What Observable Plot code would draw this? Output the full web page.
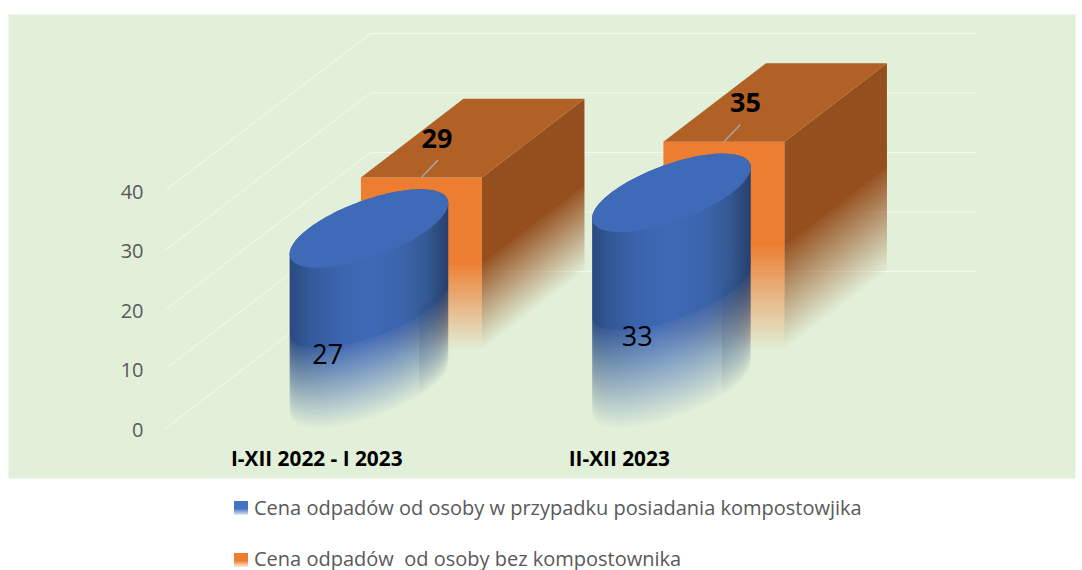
<!DOCTYPE html>
<html lang="pl">
<head>
<meta charset="utf-8">
<script src="https://cdn.jsdelivr.net/npm/d3@7"></script>
<script src="https://cdn.jsdelivr.net/npm/@observablehq/plot@0.6"></script>
<style>
html,body{margin:0;padding:0;background:#fff;overflow:hidden}
#chart svg{display:block}
.leg{position:absolute;left:234px;font:20px/20px "Open Sans",sans-serif;color:#595959;white-space:pre}
.leg i{position:absolute;left:0;width:14px;height:14px}
.leg span{margin-left:20px}
</style>
</head>
<body>
<div id="chart"></div>
<script>
const categories = ["I-XII 2022 - I 2023", "II-XII 2023"];
const withCompost = [27, 33];
const withoutCompost = [29, 35];
const yTicks = [0, 10, 20, 30, 40];
const seriesNames = ["Cena odpadów od osoby w przypadku posiadania kompostowjika", "Cena odpadów  od osoby bez kompostownika"];

// oblique projection: a point (u along categories, v value, d depth 0..1) onto the two Plot scales
const KX = 0.678, KY = 26.4;
const P = (u, v, d) => ({x: u + d * KX, y: v + d * KY});
const HW = 0.2, SHIFT = 0.007, N = 72;
const BG = "#e2f0d9";

const T0 = Math.atan2(0.25 * KX, HW);
const front = (c, v, k = 64) => d3.range(k + 1).map(i => {
  const t = T0 + Math.PI + Math.PI * i / k;
  return P(c + HW * Math.cos(t), v, 0.25 + 0.25 * Math.sin(t));
});
const back = (c, v, k = 64) => d3.range(k + 1).map(i => {
  const t = T0 + Math.PI - Math.PI * i / k;
  return P(c + HW * Math.cos(t), v, 0.25 + 0.25 * Math.sin(t));
});
const ellipse = (c, v) => [...front(c, v), ...back(c, v).reverse()];
const bodyPoly = (c, v) => [...back(c, v), ...front(c, 0).reverse()];
const stripPoly = (c, top) => {
  const all = k => front(c, k).filter(p => p.x >= c + 0.25 * KX + 0.165);
  return [...all(top), ...all(0).reverse()];
};
const barIso = (c, v) => [P(c - HW, v, .5), P(c + HW, v, .5), P(c + HW, v, 1)];

const marks = [Plot.frame({fill: BG, stroke: "none"})];

// grid: floor of the box at each tick, then along the back wall
for (const t of yTicks) {
  marks.push(Plot.line([P(0, t, 0), P(0, t, 1), P(2, t, 1)], {x: "x", y: "y", stroke: "#ffffff", strokeOpacity: 0.62, strokeWidth: 1, curve: "linear"}));
}
marks.push(Plot.axisY(yTicks, {anchor: "left", tickSize: 0, tickPadding: 0, dx: 135, dy: 2, fontSize: 20, fill: "#595959", label: null}));

categories.forEach((_, i) => {
  const c = i + 0.5 + SHIFT, v = withoutCompost[i], id = "fade-b" + i;
  const L = c - HW, R = c + HW;
  marks.push(
    Plot.line([P(L, 0, .5), P(L, v, .5), P(R, v, .5), P(R, 0, .5)], {x: "x", y: "y", fill: "#ed7d31", stroke: "none", ariaDescription: id}),
    Plot.line([P(R, 0, .5), P(R, v, .5), P(R, v, 1), P(R, 0, 1)], {x: "x", y: "y", fill: "#954f1e", stroke: "none", ariaDescription: id}),
    Plot.line([P(L, v, .5), P(R, v, .5), P(R, v, 1), P(L, v, 1)], {x: "x", y: "y", fill: "#b16026", stroke: "none"})
  );
});

categories.forEach((_, i) => {
  const c = i + 0.5 + 0.003, v = withCompost[i], id = "fade-c" + i;
  marks.push(
    Plot.line(bodyPoly(c, v), {x: "x", y: "y", fill: "url(#cylBody)", stroke: "none", ariaDescription: id}),
    Plot.line(stripPoly(c, v * 0.55), {x: "x", y: "y", fill: "url(#cylStrip)", stroke: "none", ariaDescription: id}),
    Plot.line(ellipse(c, v), {x: "x", y: "y", fill: "#3f6ab8", stroke: "none"})
  );
});

// leader lines and value labels
const barLabelShift = [-0.118, -0.098];
const cylLabelDx = [11, 18];
categories.forEach((_, i) => {
  const c = i + 0.5 + SHIFT, v = withoutCompost[i];
  const a = P(c, v, .5), b = P(c - 0.02, v, .61);
  marks.push(Plot.link([{a, b}], {x1: d => d.a.x, y1: d => d.a.y, x2: d => d.b.x, y2: d => d.b.y, stroke: "#a6a6a6", strokeWidth: 1.5}));
  const l = P(c + barLabelShift[i], v, .75);
  marks.push(Plot.text([v], {x: () => l.x, y: () => l.y, text: d => String(d), fontSize: 27, fontWeight: 700, fill: "#000", dy: 1}));
  const m = P(i + 0.5, withCompost[i] / 2, 0);
  marks.push(Plot.text([withCompost[i]], {x: () => m.x, y: () => m.y, text: d => String(d), fontSize: 27, fill: "#000", dx: cylLabelDx[i], dy: 7}));
});

marks.push(Plot.text(categories, {x: (d, i) => i + 0.5, y: () => 0, text: d => d, fontSize: 20.8, fontWeight: 700, fill: "#000", dy: 31}));

const chart = Plot.plot({
  width: 1082, height: 480,
  marginLeft: 8, marginRight: 7, marginTop: 14, marginBottom: 2,
  style: {fontFamily: "'Open Sans',sans-serif", background: "#fff", overflow: "visible"},
  x: {domain: [0, 2], range: [165, 770], axis: null},
  y: {domain: [0, 40], range: [428, 190]},
  marks
});

// gradients and the fade masks, computed through the chart's own scales
const sx = chart.scale("x").apply, sy = chart.scale("y").apply;
const defs = d3.select(chart).insert("defs", ":first-child");
const grad = (id, stops, vertical) => {
  const g = defs.append("linearGradient").attr("id", id).attr("x1", 0).attr("y1", 0).attr("x2", vertical ? 0 : 1).attr("y2", vertical ? 1 : 0);
  stops.forEach(s => g.append("stop").attr("offset", s[0]).attr("stop-color", s[1]).attr("stop-opacity", s[2] ?? 1));
};
grad("cylBody", [[0, "#2a4a7f"], [.12, "#335998"], [.3, "#3c64ae"], [.5, "#3f69b6"], [.72, "#3b64ab"], [.88, "#33578f"], [1, "#273f6d"]]);
grad("cylStrip", [[0, "#1d355f", 0], [.5, "#1d355f", .14], [1, "#1d355f", .4]], true);

const H = 480;
const addMask = (id, iso, v, start) => {
  const m = defs.append("mask").attr("id", id).attr("maskUnits", "userSpaceOnUse").attr("x", 0).attr("y", 0).attr("width", 1082).attr("height", H);
  m.append("rect").attr("width", 1082).attr("height", H).attr("fill", "#fff");
  for (let k = 0; k <= N; k++) {
    const h = 0.5 * v * (1 - k / N);
    const a = start * (1 - k / N);
    const pts = iso(h).map(p => [sx(p.x), sy(p.y)]);
    const first = pts[0], last = pts[pts.length - 1];
    const d = [[first[0] - 4, first[1]], ...pts, [last[0] + 4, last[1]], [last[0] + 4, H], [first[0] - 4, H]];
    const g = Math.round(a * 255);
    m.append("path").attr("d", "M" + d.map(p => p.join(",")).join("L") + "Z").attr("fill", `rgb(${g},${g},${g})`);
  }
  m.attr("style", "mask-type:luminance;color-interpolation:sRGB");
  chart.querySelectorAll(`[aria-description="${id}"]`).forEach(n => n.setAttribute("mask", `url(#${id})`));
};
categories.forEach((_, i) => {
  addMask("fade-b" + i, h => barIso(i + 0.5 + SHIFT, h), withoutCompost[i], 0.97);
  addMask("fade-c" + i, h => front(i + 0.503, h), withCompost[i], 0.95);
});

document.getElementById("chart").append(chart);

// legend below the SVG
const swatches = ["linear-gradient(#4472c4 55%,#e6edf8)", "linear-gradient(#ed7d31 55%,#fdeee3)"];
const tops = [498, 549];
const swatchTops = [3, 4];
seriesNames.forEach((s, i) => {
  const d = document.createElement("div");
  d.className = "leg"; d.style.top = tops[i] + "px";
  d.innerHTML = `<i style="background:${swatches[i]};top:${swatchTops[i]}px"></i><span></span>`;
  d.querySelector("span").textContent = s;
  document.body.append(d);
});
</script>
</body>
</html>
